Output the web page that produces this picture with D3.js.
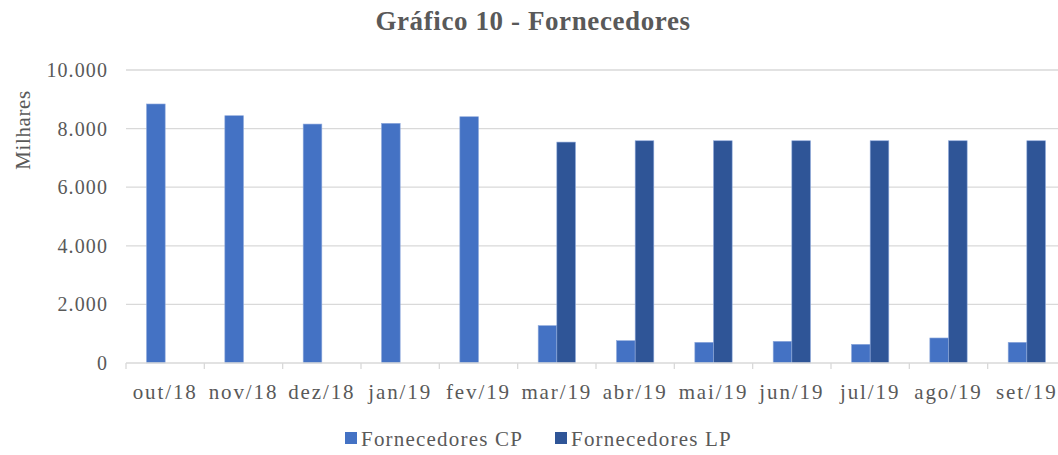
<!DOCTYPE html>
<html><head><meta charset="utf-8">
<script src="https://cdn.jsdelivr.net/npm/d3@7"></script>
<style>
body{margin:0;background:#fff;}
text{font-family:"Liberation Serif","Times New Roman",serif;fill:#595959;}
</style></head>
<body><svg id="c" width="1058" height="455"></svg>
<script>
const categories = ["out/18","nov/18","dez/18","jan/19","fev/19","mar/19","abr/19","mai/19","jun/19","jul/19","ago/19","set/19"];
const seriesNames = ["Fornecedores CP","Fornecedores LP"];
const cpValues = [8840, 8440, 8155, 8180, 8405, 1276, 763, 706, 740, 638, 854, 706];
const lpValues = [0, 0, 0, 0, 0, 7540, 7585, 7585, 7585, 7585, 7585, 7585];
const yTicks = [0, 2000, 4000, 6000, 8000, 10000];
const colors = ["#4472C4", "#2F5597"];

(function(){
const svg = d3.select("#c");
const pL = 126, pR = 1066, pT = 70, pB = 363;
const x0 = d3.scaleBand().domain(categories).range([pL, pR]).padding(0);
const x1 = d3.scaleBand().domain(seriesNames).range([0, x0.bandwidth()]).paddingInner(0).paddingOuter(1.1);
const y = d3.scaleLinear().domain([0, 10000]).range([pB, pT]);
const fmt = v => d3.format(",")(v).replace(/,/g, ".");

// gridlines
svg.append("g").selectAll("line").data(yTicks.filter(d => d > 0)).join("line")
  .attr("x1", pL).attr("x2", 1058).attr("y1", d => y(d)).attr("y2", d => y(d))
  .attr("stroke", "#d9d9d9").attr("stroke-width", 1.3);

// bars
const data = categories.map((c, i) => ({c, vals: [cpValues[i], lpValues[i]]}));
const g = svg.append("g");
data.forEach(d => {
  d.vals.forEach((v, j) => {
    if (v <= 0) return;
    g.append("rect")
      .attr("x", x0(d.c) + x1(seriesNames[j]))
      .attr("y", y(v))
      .attr("width", x1.bandwidth())
      .attr("height", y(0) - y(v))
      .attr("fill", colors[j])
      .attr("stroke", "#8faadc").attr("stroke-width", 0.6);
  });
});

// x axis
const xa = svg.append("g");
xa.append("line").attr("x1", pL).attr("x2", 1058).attr("y1", pB).attr("y2", pB)
  .attr("stroke", "#d9d9d9").attr("stroke-width", 1.3);
xa.selectAll("line.t").data(categories).join("line").attr("class", "t")
  .attr("x1", d => x0(d)).attr("x2", d => x0(d)).attr("y1", pB).attr("y2", pB + 6)
  .attr("stroke", "#d9d9d9").attr("stroke-width", 1.3);
xa.selectAll("text").data(categories).join("text")
  .attr("x", d => x0(d) + x0.bandwidth() / 2).attr("y", 399)
  .attr("text-anchor", "middle").attr("font-size", 21).attr("letter-spacing", 1.9)
  .text(d => d);

// y labels
svg.append("g").selectAll("text").data(yTicks).join("text")
  .attr("x", 108).attr("y", d => y(d) + 7)
  .attr("text-anchor", "end").attr("font-size", 20).attr("letter-spacing", 1.1)
  .text(d => fmt(d));

// y title
svg.append("text").attr("transform", "translate(30,130) rotate(-90)")
  .attr("text-anchor", "middle").attr("font-size", 21).attr("letter-spacing", 0.6).text("Milhares");

// title
svg.append("text").attr("x", 533).attr("y", 30).attr("text-anchor", "middle")
  .attr("font-size", 27).attr("font-weight", "bold").attr("letter-spacing", 0.6)
  .text("Gráfico 10 - Fornecedores");

// legend
const lg = svg.append("g");
const lx = [345, 555];
seriesNames.forEach((s, j) => {
  lg.append("rect").attr("x", lx[j]).attr("y", 432).attr("width", 12).attr("height", 12).attr("fill", colors[j]);
  lg.append("text").attr("x", lx[j] + 16).attr("y", 446).attr("font-size", 21).attr("letter-spacing", 1.2).text(s);
});
})();
</script></body></html>
